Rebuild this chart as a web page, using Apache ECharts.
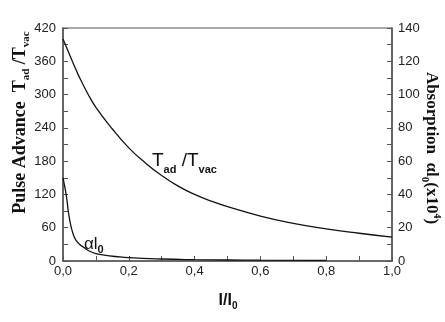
<!DOCTYPE html>
<html><head><meta charset="utf-8">
<script src="https://cdn.jsdelivr.net/npm/echarts@6/dist/echarts.min.js"></script>
<style>html,body{margin:0;padding:0;background:#fff}#c{width:445px;height:322px}</style>
</head><body><div id="c"></div>
<script>
// Pulse advance T_ad/T_vac (left axis)
const pulseX = [0, 0.015, 0.03, 0.05, 0.075, 0.1, 0.15, 0.2, 0.25, 0.3, 0.35, 0.4, 0.45, 0.5, 0.6, 0.7, 0.8, 0.9, 1.0];
const pulseY = [400, 379, 358, 331, 302, 277, 238, 204, 177, 154, 135, 120, 108, 98, 81, 68, 58, 50, 43];
// Absorption alpha*l0 (right axis, x10^4)
const absX = [0, 0.005, 0.011, 0.016, 0.021, 0.026, 0.033, 0.04, 0.05, 0.065, 0.08, 0.1, 0.13, 0.16, 0.2, 0.3, 0.4, 0.5, 0.6, 0.8];
const absY = [50, 45, 38, 30, 24, 19.5, 15, 12.3, 10, 8, 6, 4.5, 3.4, 2.7, 2, 1.2, 0.8, 0.6, 0.5, 0.35];
const xTicks = {min: 0, max: 1, interval: 0.2};
const leftTicks = {min: 0, max: 420, interval: 60};
const rightTicks = {min: 0, max: 140, interval: 20};

const SANS = '"Liberation Sans", Arial, sans-serif';
const SERIF = '"Liberation Serif", "Times New Roman", serif';
const cv = document.createElement('canvas').getContext('2d');
function tw(t, size, weight, fam) { cv.font = (weight || 'normal') + ' ' + size + 'px ' + fam; return cv.measureText(t).width; }
// parts: [text, size, weight, family, dy]
function seq(parts) {
  let x = 0; const kids = [];
  parts.forEach(p => {
    kids.push({type: 'text', x: x, y: p[4] || 0, silent: true,
      style: {text: p[0], fill: '#111', fontSize: p[1], fontWeight: p[2], fontFamily: p[3],
        align: 'left', verticalAlign: 'middle', textAlign: 'left', textVerticalAlign: 'middle'}});
    x += tw(p[0], p[1], p[2], p[3]);
  });
  return {kids, w: x};
}

const leftTitle = seq([['Pulse Advance  T', 18, 'bold', SERIF, 0], ['ad', 11, 'bold', SERIF, 6], [' /T', 18, 'bold', SERIF, 0], ['vac', 11, 'bold', SERIF, 6]]);
const rightTitle = seq([['Absorption  \u03b1l', 17, 'bold', SERIF, 0], ['0', 11, 'bold', SERIF, 6], ['(x10', 17, 'bold', SERIF, 0], ['4', 10, 'bold', SERIF, -6], [')', 17, 'bold', SERIF, 0]]);
const xTitle = seq([['I/I', 16, 'bold', SANS, 0], ['0', 10, 'bold', SANS, 5]]);
const tAnn = seq([['T', 19, 'normal', SANS, 0], ['ad', 11, 'bold', SANS, 9], [' /T', 19, 'normal', SANS, 0], ['vac', 11, 'bold', SANS, 9]]);
const aAnn = seq([['\u03b1l', 17, 'normal', SANS, 0], ['0', 11, 'bold', SANS, 6]]);

const chart = echarts.init(document.getElementById('c'), null, {renderer: 'canvas'});
const axisCol = '#555';
function yAx(t, pos, margin) {
  return {type: 'value', position: pos, min: t.min, max: t.max, interval: t.interval,
    axisLine: {show: true, lineStyle: {color: axisCol, width: 1.5}},
    axisTick: {show: true, inside: true, length: 5, lineStyle: {color: axisCol}},
    minorTick: {show: true, splitNumber: 2, length: 5, lineStyle: {color: axisCol}},
    splitLine: {show: false},
    axisLabel: {fontSize: 13, color: '#222', fontFamily: SANS, margin: margin}};
}
chart.setOption({
  animation: false,
  backgroundColor: '#fff',
  grid: {left: 63, right: 53, top: 28, bottom: 61, show: true, borderColor: axisCol, borderWidth: 1.2, backgroundColor: 'transparent'},
  xAxis: {type: 'value', min: xTicks.min, max: xTicks.max, interval: xTicks.interval,
    axisLine: {show: true, onZero: false, lineStyle: {color: axisCol, width: 1.5}},
    axisTick: {show: true, inside: true, length: 5, lineStyle: {color: axisCol}},
    minorTick: {show: true, splitNumber: 2, length: 5, lineStyle: {color: axisCol}},
    splitLine: {show: false},
    axisLabel: {fontSize: 13, color: '#222', fontFamily: SANS, margin: 4,
      formatter: v => v.toFixed(1).replace('.', ',')}},
  yAxis: [yAx(leftTicks, 'left', 7), yAx(rightTicks, 'right', 6)],
  series: [
    {type: 'line', yAxisIndex: 0, data: pulseX.map((x, i) => [x, pulseY[i]]), showSymbol: false,
      smooth: 0.5, lineStyle: {color: '#111', width: 1.3}},
    {type: 'line', yAxisIndex: 1, data: absX.map((x, i) => [x, absY[i]]), showSymbol: false,
      smooth: 0.5, lineStyle: {color: '#111', width: 1.3}}
  ],
  graphic: [
    {type: 'group', x: 20, y: 122.5 + leftTitle.w / 2, rotation: Math.PI / 2, children: leftTitle.kids},
    {type: 'group', x: 431, y: 148 - rightTitle.w / 2, rotation: -Math.PI / 2, children: rightTitle.kids},
    {type: 'group', x: 228 - xTitle.w / 2, y: 301, children: xTitle.kids},
    {type: 'group', x: 152, y: 161, children: tAnn.kids},
    {type: 'group', x: 84, y: 244, children: aAnn.kids}
  ]
});
</script></body></html>
